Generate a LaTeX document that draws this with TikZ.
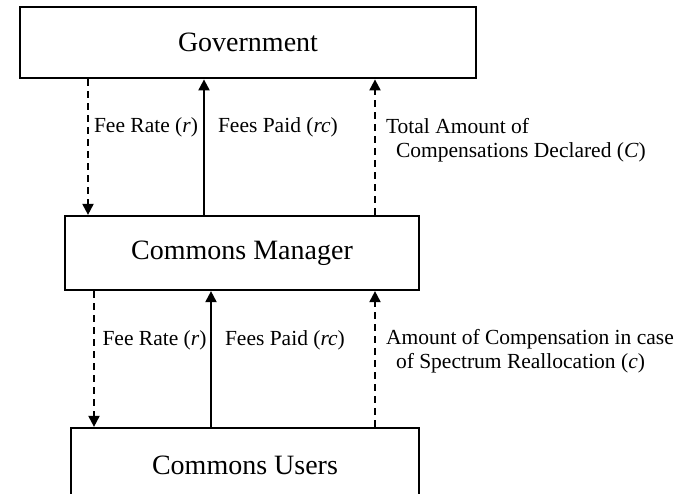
\documentclass[tikz,border=0pt]{standalone}
\usepackage{fontspec}
\setmainfont{Liberation Serif}
\usetikzlibrary{arrows.meta}

\begin{document}
\begin{tikzpicture}[
    x=1pt, y=-1pt,
    box/.style={rectangle, draw, line width=2.2pt, minimum width=348pt, minimum height=74pt, inner sep=0pt, font=\fontsize{28}{32}\selectfont},
    arrow/.style={-{Triangle[width=11pt,length=11pt]}, line width=2pt},
    dasharrow/.style={arrow, dash pattern=on 7pt off 5pt},
    lbl/.style={anchor=west, align=left, inner sep=0pt, font=\fontsize{21.5}{24}\selectfont}
]
\useasboundingbox (0,0) rectangle (686,494);
\clip (0,0) rectangle (686,494);

% Boxes
\node[box, line width=2.8pt, minimum width=456pt, minimum height=71pt] (gov) at (248,42.5) {Government};
\node[box, minimum width=354pt] (mgr) at (242,253) {Commons Manager};
\node[box] (users) at (245,465) {Commons Users};

% x positions of the connectors
\coordinate (ua) at (88,0);
\coordinate (ub) at (204,0);
\coordinate (uc) at (375,0);
\coordinate (la) at (94,0);
\coordinate (lb) at (211,0);
\coordinate (lc) at (375,0);

% Government -- Commons Manager
\draw[dasharrow] (gov.south -| ua) -- node[lbl, pos=0.355, xshift=5pt] {Fee Rate (\textit{r})} (mgr.north -| ua);
\draw[arrow] (mgr.north -| ub) -- node[lbl, pos=0.645, xshift=13pt] {Fees Paid (\textit{rc})} (gov.south -| ub);
\draw[dasharrow] (mgr.north -| uc) -- node[lbl, pos=0.554, xshift=10pt] {Total Amount of\\\hspace*{10pt}Compensations Declared (\textit{C})} (gov.south -| uc);

% Commons Manager -- Commons Users
\draw[dasharrow] (mgr.south -| la) -- node[lbl, pos=0.36, xshift=7.5pt] {Fee Rate (\textit{r})} (users.north -| la);
\draw[arrow] (users.north -| lb) -- node[lbl, pos=0.64, xshift=13pt] {Fees Paid (\textit{rc})} (mgr.south -| lb);
\draw[dasharrow] (users.north -| lc) -- node[lbl, pos=0.558, xshift=10pt] {Amount of Compensation in case\\\hspace*{10pt}of Spectrum Reallocation (\textit{c})} (mgr.south -| lc);
\end{tikzpicture}
\end{document}
